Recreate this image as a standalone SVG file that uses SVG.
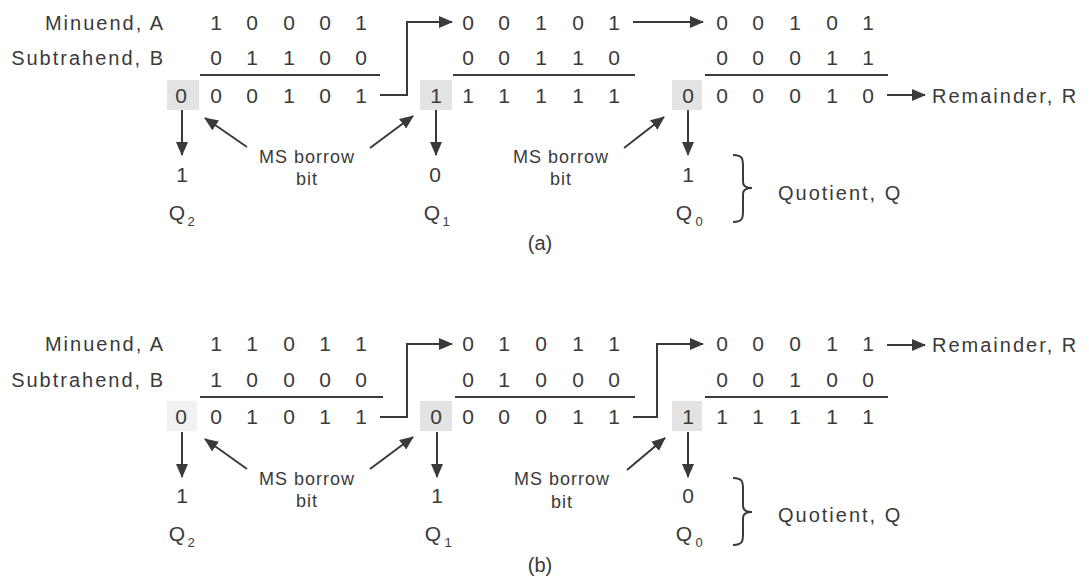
<svg xmlns="http://www.w3.org/2000/svg" width="1089" height="582" viewBox="0 0 1089 582">
<defs>
<style>
text{font-family:"Liberation Sans",Arial,sans-serif;fill:#3a3a3a}
.lbl{font-size:20px;letter-spacing:2px}
.d{font-size:21px;text-anchor:middle}
.ms{font-size:18px;letter-spacing:1px;text-anchor:middle}
.q{font-size:21px;text-anchor:middle}
.sub{font-size:13px;text-anchor:middle}
.cap{font-size:20px;text-anchor:middle}
.ln{stroke:#3a3a3a;stroke-width:2;fill:none}
.ar{stroke:#3a3a3a;stroke-width:2;fill:none;marker-end:url(#ah)}
.hl{fill:#e3e3e3}
</style>
<marker id="ah" markerUnits="userSpaceOnUse" markerWidth="14" markerHeight="12" refX="13" refY="6" orient="auto">
<path d="M0,0 L14,6 L0,12 Z" fill="#3a3a3a"/>
</marker>
</defs>
<rect width="1089" height="582" fill="#fff"/>

<!-- ===== (a) ===== -->
<g id="a-labels">
<text class="lbl" x="165" y="30" text-anchor="end">Minuend, A</text>
<text class="lbl" x="165" y="65" text-anchor="end">Subtrahend, B</text>
</g>
<g id="a-step1">
<rect class="hl" x="167" y="80" width="32" height="30"/>
<text class="d" x="216" y="30">1</text><text class="d" x="252" y="30">0</text><text class="d" x="289" y="30">0</text><text class="d" x="325" y="30">0</text><text class="d" x="361" y="30">1</text>
<text class="d" x="216" y="65">0</text><text class="d" x="252" y="65">1</text><text class="d" x="289" y="65">1</text><text class="d" x="325" y="65">0</text><text class="d" x="361" y="65">0</text>
<line class="ln" x1="200" y1="75" x2="380" y2="75"/>
<text class="d" x="181" y="103">0</text>
<text class="d" x="216" y="103">0</text><text class="d" x="252" y="103">0</text><text class="d" x="289" y="103">1</text><text class="d" x="325" y="103">0</text><text class="d" x="361" y="103">1</text>
</g>
<g id="a-step2">
<rect class="hl" x="420" y="80" width="32" height="30"/>
<text class="d" x="468" y="30">0</text><text class="d" x="504" y="30">0</text><text class="d" x="541" y="30">1</text><text class="d" x="578" y="30">0</text><text class="d" x="614" y="30">1</text>
<text class="d" x="468" y="65">0</text><text class="d" x="504" y="65">0</text><text class="d" x="541" y="65">1</text><text class="d" x="578" y="65">1</text><text class="d" x="614" y="65">0</text>
<line class="ln" x1="453" y1="75" x2="635" y2="75"/>
<text class="d" x="436" y="103">1</text>
<text class="d" x="468" y="103">1</text><text class="d" x="504" y="103">1</text><text class="d" x="541" y="103">1</text><text class="d" x="578" y="103">1</text><text class="d" x="614" y="103">1</text>
</g>
<g id="a-step3">
<rect class="hl" x="672" y="80" width="30" height="30"/>
<text class="d" x="722" y="30">0</text><text class="d" x="758" y="30">0</text><text class="d" x="795" y="30">1</text><text class="d" x="832" y="30">0</text><text class="d" x="868" y="30">1</text>
<text class="d" x="722" y="65">0</text><text class="d" x="758" y="65">0</text><text class="d" x="795" y="65">0</text><text class="d" x="832" y="65">1</text><text class="d" x="868" y="65">1</text>
<line class="ln" x1="705" y1="75" x2="888" y2="75"/>
<text class="d" x="688" y="103">0</text>
<text class="d" x="722" y="103">0</text><text class="d" x="758" y="103">0</text><text class="d" x="795" y="103">0</text><text class="d" x="832" y="103">1</text><text class="d" x="868" y="103">0</text>
</g>
<g id="a-remainder"><text class="lbl" x="932" y="103">Remainder, R</text></g>
<g id="a-quotient">
<text class="q" x="182" y="182">1</text>
<text class="q" x="177" y="220">Q</text><text class="sub" x="191" y="226">2</text>
<text class="q" x="435" y="182">0</text>
<text class="q" x="432" y="220">Q</text><text class="sub" x="446" y="226">1</text>
<text class="q" x="688" y="182">1</text>
<text class="q" x="684" y="220">Q</text><text class="sub" x="699" y="226">0</text>
<path class="ln" d="M733,155 C744,155 743,160 743,170 L743,182 C743,186 746,188 752,188 C746,188 743,190 743,194 L743,207 C743,217 744,222 733,222"/>
<text class="lbl" x="778" y="200">Quotient, Q</text>
</g>
<g id="a-ms1"><text class="ms" x="307" y="163">MS borrow</text><text class="ms" x="307" y="185">bit</text></g>
<g id="a-ms2"><text class="ms" x="561" y="163">MS borrow</text><text class="ms" x="561" y="185">bit</text></g>
<text class="cap" x="540" y="250">(a)</text>

<g id="a-connectors">
<path class="ar" d="M380,95 H407 V22 H452"/>
<path class="ar" d="M633,22 H703"/>
<path class="ar" d="M887,95 H925"/>
<path class="ar" d="M182,110 V155"/>
<path class="ar" d="M436,110 V155"/>
<path class="ar" d="M688,110 V155"/>
<path class="ar" d="M247,147 L205,118"/>
<path class="ar" d="M370,148 L413,116"/>
<path class="ar" d="M624,148 L664,117"/>
</g>

<!-- ===== (b) ===== -->
<g id="b-labels">
<text class="lbl" x="165" y="351" text-anchor="end">Minuend, A</text>
<text class="lbl" x="165" y="387" text-anchor="end">Subtrahend, B</text>
</g>
<g id="b-step1">
<rect class="hl" x="167" y="401" width="30" height="30" opacity="0.5"/>
<text class="d" x="216" y="351">1</text><text class="d" x="252" y="351">1</text><text class="d" x="289" y="351">0</text><text class="d" x="325" y="351">1</text><text class="d" x="361" y="351">1</text>
<text class="d" x="216" y="387">1</text><text class="d" x="252" y="387">0</text><text class="d" x="289" y="387">0</text><text class="d" x="325" y="387">0</text><text class="d" x="361" y="387">0</text>
<line class="ln" x1="200" y1="397" x2="383" y2="397"/>
<text class="d" x="181" y="424">0</text>
<text class="d" x="216" y="424">0</text><text class="d" x="252" y="424">1</text><text class="d" x="289" y="424">0</text><text class="d" x="325" y="424">1</text><text class="d" x="361" y="424">1</text>
</g>
<g id="b-step2">
<rect class="hl" x="420" y="401" width="32" height="30"/>
<text class="d" x="468" y="351">0</text><text class="d" x="504" y="351">1</text><text class="d" x="541" y="351">0</text><text class="d" x="578" y="351">1</text><text class="d" x="614" y="351">1</text>
<text class="d" x="468" y="387">0</text><text class="d" x="504" y="387">1</text><text class="d" x="541" y="387">0</text><text class="d" x="578" y="387">0</text><text class="d" x="614" y="387">0</text>
<line class="ln" x1="455" y1="397" x2="635" y2="397"/>
<text class="d" x="436" y="424">0</text>
<text class="d" x="468" y="424">0</text><text class="d" x="504" y="424">0</text><text class="d" x="541" y="424">0</text><text class="d" x="578" y="424">1</text><text class="d" x="614" y="424">1</text>
</g>
<g id="b-step3">
<rect class="hl" x="672" y="401" width="30" height="30"/>
<text class="d" x="722" y="351">0</text><text class="d" x="758" y="351">0</text><text class="d" x="795" y="351">0</text><text class="d" x="832" y="351">1</text><text class="d" x="868" y="351">1</text>
<text class="d" x="722" y="387">0</text><text class="d" x="758" y="387">0</text><text class="d" x="795" y="387">1</text><text class="d" x="832" y="387">0</text><text class="d" x="868" y="387">0</text>
<line class="ln" x1="705" y1="397" x2="888" y2="397"/>
<text class="d" x="688" y="424">1</text>
<text class="d" x="722" y="424">1</text><text class="d" x="758" y="424">1</text><text class="d" x="795" y="424">1</text><text class="d" x="832" y="424">1</text><text class="d" x="868" y="424">1</text>
</g>
<g id="b-remainder"><text class="lbl" x="932" y="352">Remainder, R</text></g>
<g id="b-quotient">
<text class="q" x="182" y="503">1</text>
<text class="q" x="177" y="541">Q</text><text class="sub" x="191" y="547">2</text>
<text class="q" x="437" y="503">1</text>
<text class="q" x="433" y="541">Q</text><text class="sub" x="448" y="547">1</text>
<text class="q" x="688" y="503">0</text>
<text class="q" x="684" y="541">Q</text><text class="sub" x="699" y="547">0</text>
<path class="ln" d="M733,478 C744,478 743,483 743,493 L743,506 C743,510 746,512 752,512 C746,512 743,514 743,518 L743,530 C743,540 744,545 733,545"/>
<text class="lbl" x="778" y="522">Quotient, Q</text>
</g>
<g id="b-ms1"><text class="ms" x="307" y="485">MS borrow</text><text class="ms" x="307" y="507">bit</text></g>
<g id="b-ms2"><text class="ms" x="562" y="485">MS borrow</text><text class="ms" x="562" y="508">bit</text></g>
<text class="cap" x="540" y="572">(b)</text>

<g id="b-connectors">
<path class="ar" d="M380,417 H407 V344 H452"/>
<path class="ar" d="M633,417 H657 V344 H703"/>
<path class="ar" d="M887,345 H925"/>
<path class="ar" d="M182,432 V477"/>
<path class="ar" d="M437,432 V477"/>
<path class="ar" d="M688,432 V477"/>
<path class="ar" d="M247,469 L205,439"/>
<path class="ar" d="M370,469 L413,437"/>
<path class="ar" d="M627,470 L665,438"/>
</g>
</svg>
